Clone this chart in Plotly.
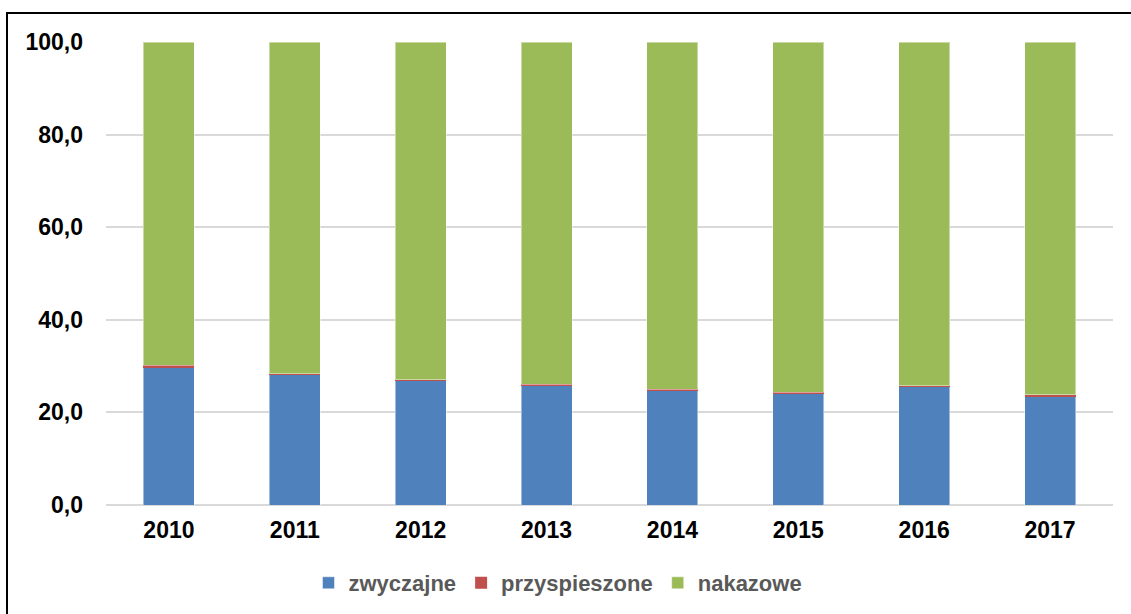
import plotly.graph_objects as go

years = ["2010", "2011", "2012", "2013", "2014", "2015", "2016", "2017"]
zwyczajne = [29.8, 28.1, 26.8, 25.8, 24.7, 24.1, 25.5, 23.4]
przyspieszone = [0.4, 0.3, 0.3, 0.3, 0.3, 0.2, 0.3, 0.4]
nakazowe = [69.8, 71.6, 72.9, 73.9, 75.0, 75.7, 74.2, 76.2]
y_ticks = [0, 20, 40, 60, 80, 100]
y_tick_labels = ["0,0", "20,0", "40,0", "60,0", "80,0", "100,0"]

FONT = "Liberation Sans, Arial, sans-serif"
FS_TICK = 23
FS_LEG = 22
edge = dict(color="rgba(255,255,255,0.45)", width=1)

fig = go.Figure()
fig.add_trace(go.Bar(name="zwyczajne", x=years, y=zwyczajne,
                     marker=dict(color="#4F81BD", line=edge)))
fig.add_trace(go.Bar(name="przyspieszone", x=years, y=przyspieszone,
                     marker=dict(color="#C0504D", line=dict(width=0))))
fig.add_trace(go.Bar(name="nakazowe", x=years, y=nakazowe,
                     marker=dict(color="#9BBB59", line=edge)))

W, H = 1131, 614
L, R, T, B = 106, 1113, 42, 505
pw, ph = R - L, B - T

def px_to_paper_x(px):
    return (px - L) / pw

def px_to_paper_y(py):
    return (B - py) / ph

fig.update_layout(
    width=W, height=H,
    barmode="stack",
    bargap=0.595,
    plot_bgcolor="white",
    paper_bgcolor="white",
    margin=dict(l=L, r=W - R, t=T, b=H - B, autoexpand=False),
    font=dict(family=FONT, size=FS_TICK, color="black", weight="bold"),
    xaxis=dict(showgrid=False, showline=False, ticks="",
               tickfont=dict(family=FONT, size=FS_TICK, color="black", weight="bold"),
               ticklabelstandoff=9),
    yaxis=dict(range=[0, 100], tickvals=y_ticks, ticktext=y_tick_labels,
               showgrid=True, gridcolor="#D9D9D9", gridwidth=1.5,
               zeroline=True, zerolinecolor="#D9D9D9", zerolinewidth=1.5,
               showline=False, ticks="",
               tickfont=dict(family=FONT, size=FS_TICK, color="black", weight="bold"),
               ticklabelstandoff=22),
    legend=dict(orientation="h", x=px_to_paper_x(558), xanchor="center",
                y=px_to_paper_y(583), yanchor="middle",
                font=dict(family=FONT, size=FS_LEG, color="#595959", weight="bold"),
                traceorder="normal", itemwidth=30, bgcolor="rgba(0,0,0,0)"),
    shapes=[dict(type="rect", xref="paper", yref="paper",
                 x0=px_to_paper_x(7), x1=px_to_paper_x(1140),
                 y0=px_to_paper_y(630), y1=px_to_paper_y(13),
                 line=dict(color="black", width=2), fillcolor="rgba(0,0,0,0)",
                 layer="above")],
)

fig.write_html("out.html", config={"displayModeBar": False},
               post_script="document.body.style.margin='0';document.body.style.padding='0';")
